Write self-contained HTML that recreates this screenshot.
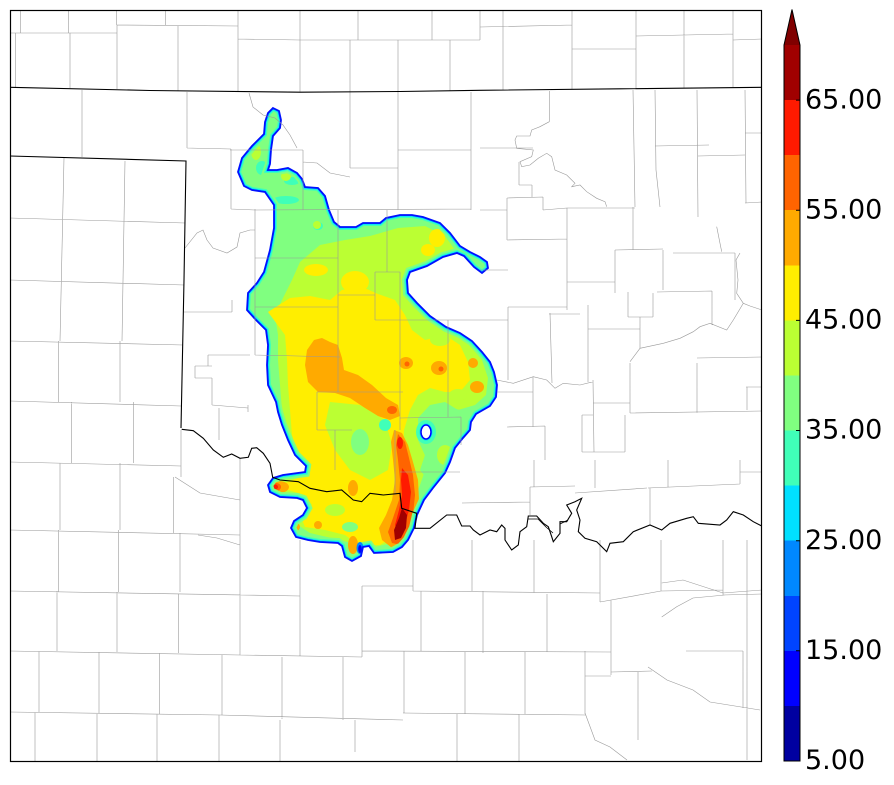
<!DOCTYPE html>
<html><head><meta charset="utf-8"><style>
html,body{margin:0;padding:0;background:#fff;}
svg{display:block;}
</style></head><body>
<svg width="894" height="785" viewBox="0 0 894 785" xmlns="http://www.w3.org/2000/svg">
<defs>
<clipPath id="blob"><path id="bp" d="M273,108 L279,111 L281,120 L280,128 L273,136 L271,150 L270,164 L268,170 L277,170 L288,168 L297,173 L302,179 L305,187 L318,188 L325,196 L329,210 L334,222 L340,227 L356,227 L363,223 L380,223 L386,218 L400,215 L412,215 L423,217 L440,223 L450,233 L460,246 L470,252 L480,257 L487,262 L488,268 L482,273 L474,267 L464,256 L457,253 L443,257 L427,266 L410,272 L407,280 L408,293 L417,303 L430,316 L446,327 L460,333 L472,341 L482,352 L490,362 L494,372 L497,385 L496,397 L490,406 L476,414 L471,422 L470,430 L463,438 L455,448 L450,462 L445,473 L433,488 L424,500 L417,515 L414,528 L408,540 L402,547 L393,552 L374,553 L369,546 L363,547 L361,556 L352,561 L345,557 L342,546 L338,543 L320,542 L308,540 L296,537 L291,528 L294,521 L303,515 L307,508 L303,500 L297,498 L280,497 L270,492 L268,485 L273,478 L283,475 L305,472 L306,466 L295,455 L288,440 L282,425 L278,412 L276,402 L268,385 L267,365 L268,345 L266,330 L256,320 L247,310 L248,293 L257,283 L264,272 L270,250 L274,228 L274,205 L265,192 L252,190 L244,186 L238,172 L242,158 L252,146 L264,134 L265,122 L268,113 Z"/></clipPath>
</defs>
<rect x="0" y="0" width="894" height="785" fill="#fff"/>

<!-- blob -->
<g clip-path="url(#blob)">
<rect x="200" y="90" width="320" height="480" fill="#80ff80"/>
<ellipse cx="262" cy="168" rx="6" ry="7" fill="#40ffb8"/>
<ellipse cx="286" cy="200" rx="13" ry="4" fill="#40ffb8"/>
<ellipse cx="292" cy="181" rx="8" ry="4" fill="#40ffb8"/>
<ellipse cx="318" cy="226" rx="5" ry="4" fill="#40ffb8"/>
<ellipse cx="256" cy="152" rx="5" ry="8" fill="#bbff33"/>
<ellipse cx="286" cy="176" rx="5" ry="5" fill="#bbff33"/>
<ellipse cx="317" cy="225" rx="4" ry="4" fill="#bbff33"/>
<path fill="#bbff33" d="M300,262 L320,245 L345,240 L370,236 L398,228 L425,226 L445,236 L455,250 L448,262 L428,270 L410,278 L405,292 L415,305 L432,320 L452,333 L470,345 L482,360 L488,378 L486,395 L475,405 L458,410 L445,402 L430,405 L418,418 L418,440 L428,462 L420,485 L410,510 L405,540 L370,548 L340,540 L310,533 L298,525 L300,512 L300,500 L282,492 L276,482 L290,476 L300,470 L292,452 L286,432 L282,410 L280,385 L278,360 L278,335 L275,315 L282,300 L292,280 Z"/>
<ellipse cx="437" cy="238" rx="8" ry="9" fill="#ffee00"/>
<ellipse cx="428" cy="250" rx="7" ry="6" fill="#ffee00"/>
<ellipse cx="316" cy="270" rx="12" ry="6" fill="#ffee00"/>
<ellipse cx="355" cy="282" rx="14" ry="11" fill="#ffee00"/>
<path fill="#ffee00" d="M268,312 L290,298 L310,296 L330,300 L342,290 L360,286 L378,294 L395,300 L405,315 L412,330 L425,340 L445,335 L460,345 L468,362 L470,380 L460,392 L445,392 L430,388 L418,395 L410,410 L404,430 L403,460 L408,490 L400,515 L395,535 L380,545 L358,545 L345,535 L325,530 L305,527 L300,515 L312,505 L305,495 L288,490 L282,484 L298,478 L305,470 L298,455 L292,435 L290,410 L288,385 L287,360 L285,335 Z"/>
<path fill="#bbff33" d="M330,402 L360,405 L385,420 L392,445 L388,470 L370,480 L350,470 L335,450 L325,425 Z"/>
<ellipse cx="360" cy="442" rx="9" ry="13" fill="#80ff80"/>
<ellipse cx="385" cy="425" rx="6" ry="6" fill="#40ffb8"/>
<ellipse cx="335" cy="510" rx="10" ry="6" fill="#bbff33"/>
<ellipse cx="350" cy="527" rx="8" ry="5" fill="#80ff80"/>
<ellipse cx="440" cy="340" rx="10" ry="6" fill="#bbff33"/>
<ellipse cx="458" cy="395" rx="9" ry="6" fill="#bbff33"/>
<path fill="#80ff80" d="M418,418 L440,405 L460,410 L472,420 L465,440 L452,455 L440,470 L428,480 L420,470 L425,455 L418,440 Z"/>
<ellipse cx="445" cy="455" rx="8" ry="10" fill="#bbff33"/>
<ellipse cx="426" cy="432" rx="10" ry="12" fill="#40ffb8"/>
<ellipse cx="426" cy="432" rx="6.5" ry="8.5" fill="#00e0ff"/>
<!-- orange -->
<path fill="#ffaa00" d="M307,350 L314,340 L322,338 L330,342 L338,345 L342,358 L344,370 L358,375 L372,385 L386,398 L398,405 L400,416 L390,420 L378,416 L365,408 L350,398 L335,393 L318,392 L308,382 L305,365 Z"/>
<ellipse cx="406" cy="363" rx="7" ry="6" fill="#ffaa00"/>
<ellipse cx="439" cy="368" rx="8" ry="7" fill="#ffaa00"/>
<ellipse cx="473" cy="363" rx="5" ry="5" fill="#ffaa00"/>
<ellipse cx="477" cy="387" rx="7" ry="6" fill="#ffaa00"/>
<path fill="#ffaa00" d="M394,430 L402,433 L408,445 L413,462 L418,480 L419,500 L416,520 L411,538 L404,546 L392,548 L382,540 L379,528 L386,515 L392,500 L395,480 L393,460 L391,442 Z"/>
<ellipse cx="279" cy="487" rx="10" ry="6" fill="#ffaa00"/>
<ellipse cx="353" cy="545" rx="5" ry="9" fill="#ffaa00"/>
<ellipse cx="318" cy="525" rx="4" ry="4" fill="#ffaa00"/>
<ellipse cx="296" cy="527" rx="4" ry="4" fill="#ffaa00"/>
<ellipse cx="353" cy="488" rx="5" ry="8" fill="#ffaa00"/>
<!-- red-orange -->
<path fill="#ff6400" d="M398,434 L405,442 L409,458 L413,475 L415,495 L413,515 L408,535 L401,545 L392,543 L388,532 L393,518 L399,500 L400,480 L398,460 L396,445 Z"/>
<ellipse cx="392" cy="410" rx="5" ry="4" fill="#ff6400"/>
<ellipse cx="276" cy="487" rx="5" ry="4" fill="#ff6400"/>
<ellipse cx="441" cy="369" rx="2.5" ry="2.5" fill="#ff6400"/>
<ellipse cx="407" cy="364" rx="2.5" ry="2.5" fill="#ff6400"/>
<!-- red -->
<ellipse cx="400" cy="443" rx="3" ry="6" fill="#ff1a00"/>
<path fill="#ff1a00" d="M402,468 L408,475 L411,492 L409,510 L405,525 L398,535 L395,525 L399,510 L402,495 L401,480 Z"/>
<ellipse cx="275" cy="487" rx="3" ry="2.5" fill="#ff1a00"/>
<path fill="#a00000" d="M402,508 L407,515 L406,528 L401,538 L395,540 L394,530 L399,518 Z"/>
<!-- edge bands -->
<use href="#bp" fill="none" stroke="#80ff80" stroke-width="10"/>
<use href="#bp" fill="none" stroke="#40ffb8" stroke-width="6"/>
<use href="#bp" fill="none" stroke="#00e0ff" stroke-width="3.5"/>
<use href="#bp" fill="none" stroke="#0088ff" stroke-width="2"/>
<ellipse cx="360" cy="548" rx="3.5" ry="6" fill="#0088ff"/>
<ellipse cx="360" cy="549" rx="1.8" ry="4" fill="#0000ff"/>
</g>
<use href="#bp" fill="none" stroke="#0010ff" stroke-width="1.8"/>
<ellipse cx="426" cy="432" rx="5" ry="7" fill="#fff" stroke="#0000ff" stroke-width="1.5"/>

<!-- county lines -->
<path fill="none" stroke="#9a9a9a" stroke-width="0.6" d="
M20.7,10V33 M68.3,10V33 M116.7,10V25 M165.7,10V25 M10,33H117 M117,25L238,26 M238,10V92 M238,39L300,40 M15.7,33V87 M70,33V88 M117,25V89 M178,26V91 M300,10V92 M358,10V40 M300,40L480,40 M350,40V92 M398,40V92 M432,10V40 M450,40V91 M480,27L572,25 M480,10V40 M503,10V90 M572,10V89 M572,49L636,49 M636,10V88 M684,10V88 M636,36L733,34 M733,10V87 M733,40L762,39
M82,90V157 M187,92V148 M64,158L60,341 M125,161L122,341 M10,218L185,223 M10,280L184,285 M10,341L183,345 M10,401L181,406 M10,462L181,466 M58.3,341V402 M120,341V402 M71.7,402V463 M133.3,402V463 M60,463V530 M120,463V530 M181,430V477 M173.3,477V533 M10,530L240,535 M58.3,530V592 M118.3,530V592 M180,533V592 M240,458V655 M10,591L300,596 M57,591V651 M117,592V652 M178.7,594V653 M10,651L240,655 M240,655L362,657 M39,651V712 M99,652V713 M159.3,653V714 M222,655V715 M10,712L220,715 M220,715L403,720 M35,712V761 M97,713V761 M157,714V761 M219,715V761 M280,720V761 M355,720V752 M300,540V656 M362,586V657 M282,657V719 M343,657V720
M362,586H413 M413,540V591 M472,540V591 M534,540V593 M600,540V602 M661,540V591 M723,540V595 M413,591L600,593 M600,602L661,591 M661,591L723,590 M723,595L762,594 M421,591V651 M483,591V653 M547,594V652 M611,600V675 M362,651L611,652 M404,651V713 M465,652V714 M525,652V714 M585,651V714 M403,713L586,715 M585,676H611 M611,672L652,671 M638,672V740 M457,714V761 M519,714V761 M686,651H743 M743,651V708 M747,540V760
M661.7,583L683,580L723,593L762,590 M661.7,617L676.7,606.7L693,598L725,595 M648,667L667,680L693,690L710,702L760,710 M585,713L595,740L610,747L627,760
M187,148L231,149 M231,149V209 M231,209L255,210 M255,209V355 M230,150L303,150 M303,150V210 M350,92V168 M350,168H398 M398,92V210 M398,150H471 M471,92V210 M255,210L471,209 M338,210V392 M387,210V272 M375,272H400 M375,272V320 M338,295H375 M255,258H338 M255,307H338 M255,355L340,357 M317,392H403 M317,392V430 M317,430H352 M335,430V470 M400,272V430 M448,320V417 M400,418L461,417 M461,417V445 M400,472H460 M395,430V495 M375,320H448 M448,320L490,320 M184,312H232 M232,300V312 M208,355H250 M208,355V366 M195,366H212 M195,366V378 M195,378H212 M212,378V405 M212,405L248,408 M219,408V440 M248,405V412
M549.3,91V121.7 M633,90L635,207 M655,90L656,170L660,207 M697,90L698,217 M745,90L746,203 M655,146L709,145 M698,156L745,155 M745,133H762 M480,148L533,148 M507,198L543,197 M507,198V240 M543,197V210 M543,210L567,208 M567,208H635 M480,210H507 M567,208V310 M507,240L567,239 M508,307L567,307 M567,282H615 M615,250V293 M615,250L663,249 M633,207V250 M663,250V290 M657,292L712,291 M712,291V325 M673,253H735 M735,253V300 M628,292V317 M628,317H653 M653,293V317 M640,317V348 M588,329H640 M588,305V382 M550,313L552,383 M549,314H580 M697,358L762,357 M697,363V413 M630,413L762,411 M630,363V413 M747,387V410 M746,387H762 M593,403H630 M593,380L594,452 M582,415V452 M582,415H593 M582,452H625 M625,415V452 M533,377V427 M497,392H533 M507,427L545,426 M508,307V380 M480,320H508 M480,270H508 M519,162V185 M519,185H532 M532,185V197 M745,203L762,202
M530,487V515 M530,487L575,486 M575,493L647,488 M595,460V488 M668,460V487 M740,460V484 M648,488L740,484 M462,503L530,502 M534,460V487 M740,472H762 M650,488V525 M545,426V460
M549.3,121.7L540,126.7L531.7,130L530,136L516.7,136L515,140L516.7,148.3L533.3,150L531.7,156.7L520,161.7L521.7,166.7L530,165L538.3,158.3L546.7,153.3L551.7,156.7L555,170L566.7,175L575,183.3L571.7,186.7L580,185L586.7,191.7L596.7,198.3L605,201.7L606.7,206.7
M630,361.7L640,348.3L663.3,343.3L680,338.3L693.3,331.7L700,326.7L710,323.3L726.7,330L733.3,320L743.3,303.3L736.7,293.3L738,280L736,260L740,253 M716.7,226.7L720,243.3L721.7,251.7 M743.3,303.3L750,306L762,310
M249,93L253,107L263,115L275,118L283,125L290,135L297,148 M303,162L317,163L330,173L350,177
M185,248L197,233L203,230L207,240L213,248L227,253L237,247L240,233L250,230L255,230
M496.7,380L513.3,383.3L533.3,376.7L546.7,380L555,388.3L563.3,383.3L580,385L593.3,381.7
M175,477L200,493L240,500 M198,535L217,538L240,545
"/>

<!-- state borders -->
<path fill="none" stroke="#000" stroke-width="1.1" d="M10,87.3 L150,90.5 L300,92.2 L400,91.5 L480,90.3 L620,88.8 L762,87.3 M10,156 L186,161 L184,280 L181,428"/>
<path fill="none" stroke="#000" stroke-width="1.1" d="M181.7,429.3 L193.3,430.7 L203.3,438.3 L213.3,450 L223.3,457.3 L231.7,454 L240,458.3 L248.3,457.3 L251.7,448.3 L256.7,447.7 L263.3,453.3 L270,463.3 L272.7,477.3 L280,480 L298.3,481.7 L310,488.3 L326.7,491.7 L341.7,490 L353.3,500 L361.7,501.7 L370,493.3 L383.3,495 L400,493.3 L401.7,508.3 L416.7,513.3 L415,528.3 L430,528.3 L446.7,515 L456.7,515 L461.7,526 L470,526 L473.3,530 L480,535 L490,530 L496.7,531.7 L501.7,525 L505,528.3 L505,540 L511.7,550 L518.3,545 L520,531.7 L526.7,526.7 L528.3,516 L536.7,516 L543.3,523.3 L548.3,526.7 L551.7,536.7 L553.3,541.7 L560,533.3 L560,521.7 L566.7,521.7 L571.7,513.3 L566.7,505 L575,501.7 L581.7,498.3 L576.7,510 L580,520 L578.3,531.7 L585,538.3 L596.7,541.7 L606.7,551.7 L610,543.3 L623.3,541.7 L633.3,531.7 L650,525 L661.7,530 L670,523.3 L686.7,518.3 L693.3,516.7 L698.3,523.3 L720,525 L726.7,520 L733.3,511.7 L743.3,515 L753.3,521.7 L761.7,526"/>
<path fill="none" stroke="#000" stroke-width="0.8" d="M528,519 L538,519 L546,527 L553,533 M560,524 L568,520"/>

<!-- map frame -->
<rect x="10.5" y="10.5" width="751" height="751" fill="none" stroke="#000" stroke-width="1.2"/>

<!-- colorbar -->
<g shape-rendering="crispEdges">
<rect x="784" y="45" width="16" height="55.1" fill="#a00000"/>
<rect x="784" y="100.1" width="16" height="55.1" fill="#ff1a00"/>
<rect x="784" y="155.2" width="16" height="55.1" fill="#ff6400"/>
<rect x="784" y="210.2" width="16" height="55.1" fill="#ffaa00"/>
<rect x="784" y="265.3" width="16" height="55.1" fill="#ffee00"/>
<rect x="784" y="320.4" width="16" height="55.1" fill="#bbff33"/>
<rect x="784" y="375.5" width="16" height="55.1" fill="#80ff80"/>
<rect x="784" y="430.5" width="16" height="55.1" fill="#40ffb8"/>
<rect x="784" y="485.6" width="16" height="55.1" fill="#00e0ff"/>
<rect x="784" y="540.7" width="16" height="55.1" fill="#0088ff"/>
<rect x="784" y="595.8" width="16" height="55.1" fill="#0044ff"/>
<rect x="784" y="650.8" width="16" height="55.1" fill="#0000ff"/>
<rect x="784" y="705.9" width="16" height="55.1" fill="#0000a0"/>
</g>
<path d="M784,45 L792,9.5 L800,45 Z" fill="#800000"/>
<path d="M784,761 L784,45 L792,9.5 L800,45 L800,761 Z" fill="none" stroke="#000" stroke-width="1"/>
<path fill="none" stroke="#000" stroke-width="1" d="M796,100.1H800 M796,210.2H800 M796,320.4H800 M796,430.5H800 M796,540.7H800 M796,650.8H800"/>
<g font-family="'DejaVu Sans','Liberation Sans',sans-serif" font-size="27" fill="#000">
<text x="805" y="108.5">65.00</text>
<text x="805" y="218.5">55.00</text>
<text x="805" y="328.5">45.00</text>
<text x="805" y="438.5">35.00</text>
<text x="805" y="549">25.00</text>
<text x="805" y="659">15.00</text>
<text x="805" y="769">5.00</text>
</g>
</svg>
</body></html>
